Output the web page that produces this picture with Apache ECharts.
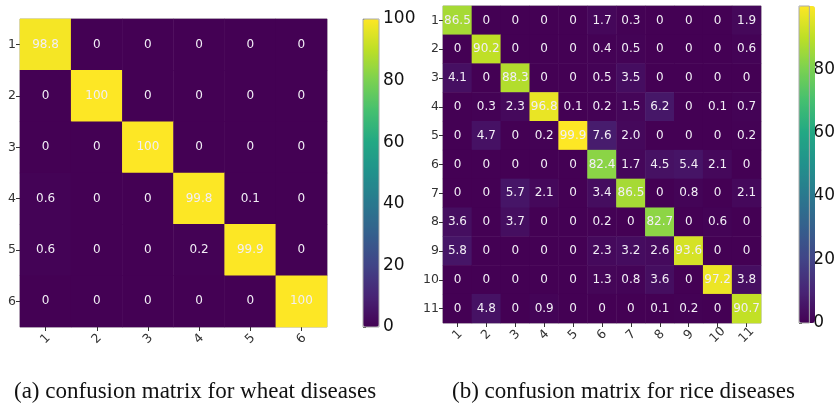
<!DOCTYPE html>
<html>
<head>
<meta charset="utf-8">
<script src="https://cdn.jsdelivr.net/npm/echarts@6/dist/echarts.min.js"></script>
<style>
html,body{margin:0;padding:0;background:#fff;}
#c{width:838px;height:406px;}
</style>
</head>
<body>
<div id="c"></div>
<script>
// ---- Data ----
const wheatClasses = ['1','2','3','4','5','6'];
const wheatMatrix = [
  [98.8, 0, 0, 0, 0, 0],
  [0, 100, 0, 0, 0, 0],
  [0, 0, 100, 0, 0, 0],
  [0.6, 0, 0, 99.8, 0.1, 0],
  [0.6, 0, 0, 0.2, 99.9, 0],
  [0, 0, 0, 0, 0, 100]
];
const riceClasses = ['1','2','3','4','5','6','7','8','9','10','11'];
const riceMatrix = [
  [86.5, 0, 0, 0, 0, 1.7, 0.3, 0, 0, 0, 1.9],
  [0, 90.2, 0, 0, 0, 0.4, 0.5, 0, 0, 0, 0.6],
  [4.1, 0, 88.3, 0, 0, 0.5, 3.5, 0, 0, 0, 0],
  [0, 0.3, 2.3, 96.8, 0.1, 0.2, 1.5, 6.2, 0, 0.1, 0.7],
  [0, 4.7, 0, 0.2, 99.9, 7.6, 2.0, 0, 0, 0, 0.2],
  [0, 0, 0, 0, 0, 82.4, 1.7, 4.5, 5.4, 2.1, 0],
  [0, 0, 5.7, 2.1, 0, 3.4, 86.5, 0, 0.8, 0, 2.1],
  [3.6, 0, 3.7, 0, 0, 0.2, 0, 82.7, 0, 0.6, 0],
  [5.8, 0, 0, 0, 0, 2.3, 3.2, 2.6, 93.6, 0, 0],
  [0, 0, 0, 0, 0, 1.3, 0.8, 3.6, 0, 97.2, 3.8],
  [0, 4.8, 0, 0.9, 0, 0, 0, 0.1, 0.2, 0, 90.7]
];
const wheatColorbarTicks = [0, 20, 40, 60, 80, 100];
const riceColorbarTicks = [0, 20, 40, 60, 80];
const captions = ['(a) confusion matrix for wheat diseases', '(b) confusion matrix for rice diseases'];

// ---- Build ----
function toCells(m) {
  const out = [];
  m.forEach((row, r) => row.forEach((v, c) => out.push([c, r, v])));
  return out;
}
function fmt(v) {
  if (v === 0) return '0';
  if (v === 100) return '100';
  return v.toFixed(1);
}
const viridis = ['#440154','#482475','#414487','#355f8d','#2a788e','#21918c','#22a884','#44bf70','#7ad151','#bddf26','#fde725'];
const font = 'DejaVu Sans';
const gridsPos = [
  {left: 20, top: 19, width: 307, height: 308},
  {left: 443, top: 6, width: 318, height: 317},
  {left: 363, top: 19, width: 16, height: 308},
  {left: 799, top: 6, width: 16, height: 317}
];
const riceMax = Math.max(...riceMatrix.flat());

const catX = (data, gi) => ({
  type: 'category', gridIndex: gi, data: data,
  axisLine: {show: false},
  axisTick: {show: true, length: 4, alignWithLabel: true, lineStyle: {color: '#333'}},
  axisLabel: {rotate: 45, align: 'center', verticalAlign: 'middle', fontFamily: font, fontSize: 12.5, color: '#333', margin: 12},
  splitLine: {show: false}
});
const catY = (data, gi) => ({
  type: 'category', gridIndex: gi, data: data, inverse: true,
  axisLine: {show: false},
  axisTick: {show: true, length: 4, alignWithLabel: true, lineStyle: {color: '#333'}},
  axisLabel: {fontFamily: font, fontSize: 12.5, color: '#333', margin: 4},
  splitLine: {show: false}
});
const cbY = (gi, max, ticks) => ({
  type: 'value', gridIndex: gi, position: 'right', min: 0, max: max,
  axisLine: {show: false},
  axisTick: {show: true, length: 3, lineStyle: {color: '#333'}, customValues: ticks},
  axisLabel: {fontFamily: font, fontSize: 17, color: '#111', margin: 4, customValues: ticks},
  splitLine: {show: false}
});
const cbX = (gi) => ({type: 'value', gridIndex: gi, show: false});

const cellLabel = {
  show: true, fontFamily: font, fontSize: 12, color: '#f2eef6',
  formatter: p => fmt(p.value[2])
};
const capStyle = {fontFamily: 'Liberation Serif', fontSize: 23, fontWeight: 'normal', color: '#111'};

const option = {
  animation: false,
  backgroundColor: '#fff',
  title: [
    {text: captions[0], left: 14, top: 380, padding: 0, textStyle: capStyle},
    {text: captions[1], left: 452, top: 380, padding: 0, textStyle: capStyle}
  ],
  grid: gridsPos.map((g, i) => Object.assign({show: true, borderColor: '#aaa', borderWidth: 1, backgroundColor: 'transparent', z: i >= 2 ? 10 : 0}, g)),
  xAxis: [catX(wheatClasses, 0), catX(riceClasses, 1), cbX(2), cbX(3)],
  yAxis: [catY(wheatClasses, 0), catY(riceClasses, 1), cbY(2, 100, wheatColorbarTicks), cbY(3, riceMax, riceColorbarTicks)],
  visualMap: [
    {type: 'continuous', seriesIndex: 0, min: 0, max: 100, calculable: false, showLabel: false, text: null,
     left: gridsPos[2].left, top: gridsPos[2].top, itemWidth: gridsPos[2].width, itemHeight: gridsPos[2].height, padding: 0,
     inRange: {color: viridis}, hoverLink: false},
    {type: 'continuous', seriesIndex: 1, min: 0, max: riceMax, calculable: false, showLabel: false, text: null,
     left: gridsPos[3].left, top: gridsPos[3].top, itemWidth: gridsPos[3].width, itemHeight: gridsPos[3].height, padding: 0,
     inRange: {color: viridis}, hoverLink: false}
  ],
  series: [
    {type: 'heatmap', xAxisIndex: 0, yAxisIndex: 0, data: toCells(wheatMatrix), label: cellLabel, emphasis: {disabled: true}},
    {type: 'heatmap', xAxisIndex: 1, yAxisIndex: 1, data: toCells(riceMatrix), label: cellLabel, emphasis: {disabled: true}}
  ]
};
const chart = echarts.init(document.getElementById('c'), null, {renderer: 'canvas'});
chart.setOption(option);
</script>
</body>
</html>
